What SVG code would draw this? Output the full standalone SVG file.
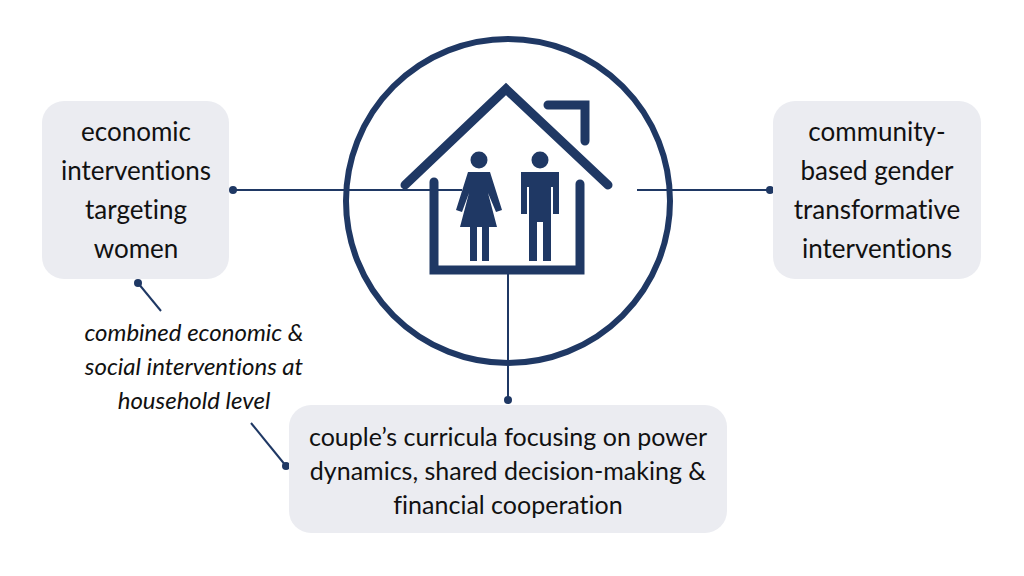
<svg xmlns="http://www.w3.org/2000/svg" width="1024" height="576" viewBox="0 0 1024 576">
<style>
.box{fill:#ebecf1}
.t{font-family:Lato,"Open Sans",sans-serif;font-size:26px;fill:#111;text-anchor:middle;font-variant-ligatures:none}
.b{font-size:25px}
.i{font-family:Lato,"Open Sans",sans-serif;font-size:24px;font-style:italic;fill:#111;text-anchor:middle;font-variant-ligatures:none}
.ln{stroke:#1f3864;stroke-width:2;fill:none}
.dot{fill:#1f3864}
.ic{stroke:#1f3864;stroke-width:9;fill:none;stroke-linecap:round}
.fig{fill:#1f3864}
</style>
<rect width="1024" height="576" fill="#fff"/>
<g id="hub">
<circle cx="508" cy="201" r="162" fill="none" stroke="#1f3864" stroke-width="6"/>
<polyline class="ic" points="405,185 506,89 608,185"/>
<polyline class="ic" points="548,105 585,105 585,141"/>
<polyline class="ic" points="434,182 434,270 580,270 580,184" stroke-linecap="butt"/>
<circle class="fig" cx="479" cy="160" r="8.5"/>
<path class="fig" d="M468,172 H490 L502,210 L496,212 L488,193 L497,227 H489 V261 H482 V227 H477 V261 H470 V227 H460 L469,193 L462,212 L456,210 Z"/>
<circle class="fig" cx="540" cy="160" r="8.5"/>
<path class="fig" d="M521,172 H559 V214 H553 V187 H551 V261 H543 V222 H537 V261 H529 V187 H527 V214 H521 Z"/>
</g>
<g id="connectors">
<line class="ln" x1="233" y1="190" x2="462" y2="190"/>
<circle class="dot" cx="233" cy="190" r="4"/>
<line class="ln" x1="637" y1="190" x2="770" y2="190"/>
<circle class="dot" cx="770" cy="190" r="4"/>
<line class="ln" x1="508" y1="272" x2="508" y2="400"/>
<circle class="dot" cx="508" cy="400" r="4"/>
<line class="ln" x1="138" y1="283" x2="161" y2="311"/>
<circle class="dot" cx="138" cy="283" r="4"/>
<line class="ln" x1="251" y1="423" x2="286" y2="466"/>
<circle class="dot" cx="286" cy="466" r="4"/>
</g>
<g id="left">
<rect class="box" x="42" y="101" width="187" height="178" rx="22"/>
<text class="t" x="136" y="141">economic</text>
<text class="t" x="136" y="180">interventions</text>
<text class="t" x="136" y="219">targeting</text>
<text class="t" x="136" y="258">women</text>
</g>
<g id="right">
<rect class="box" x="773" y="101" width="208" height="178" rx="22"/>
<text class="t" x="877" y="141">community-</text>
<text class="t" x="877" y="180">based gender</text>
<text class="t" x="877" y="219">transformative</text>
<text class="t" x="877" y="258">interventions</text>
</g>
<g id="bottom">
<rect class="box" x="289" y="405" width="438" height="128" rx="22"/>
<text class="t b" x="508" y="446">couple’s curricula focusing on power</text>
<text class="t b" x="508" y="480">dynamics, shared decision-making &amp;</text>
<text class="t b" x="508" y="514">financial cooperation</text>
</g>
<g id="note">
<text class="i" x="194" y="341">combined economic &amp;</text>
<text class="i" x="194" y="375">social interventions at</text>
<text class="i" x="194" y="409">household level</text>
</g>
</svg>
